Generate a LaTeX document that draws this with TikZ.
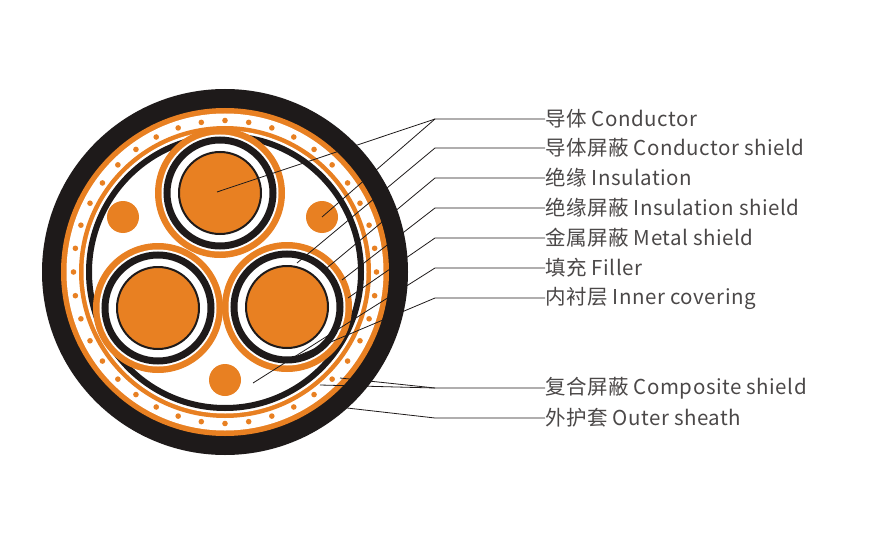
\documentclass[tikz,border=0pt]{standalone}
\usepackage{fontspec}
\setmainfont{Noto Sans CJK SC}[LetterSpace=2.5]
\definecolor{cuorange}{RGB}{232,128,34}
\definecolor{sheath}{RGB}{30,26,26}
\tikzset{
  lead/.style={draw=sheath, line width=0.8pt},
  lbl/.style={anchor=west, inner sep=0pt, font=\fontsize{20.5}{20.5}\selectfont, text=sheath!80},
  conductor/.style={fill=cuorange, draw=sheath, line width=2pt},
  filler/.style={fill=cuorange}
}
\begin{document}
\begin{tikzpicture}[x=1pt,y=-1pt]
    \useasboundingbox (0,0) rectangle (870,559);
    % cable body
    \fill[sheath] (225,272) circle (183);
    \fill[cuorange] (225,272) circle (164);
    \fill[white] (225,272) circle (158.5);
    \foreach \a in {0,9,...,351}
        \fill[cuorange] (225,272) ++(\a:151.5) circle (2.8);
    \fill[cuorange] (225,272) circle (146);
    \fill[white] (225,272) circle (141.5);
    \draw[sheath, line width=6pt] (225,272) circle (136);
    % cores
    \foreach \cx/\cy in {220/193, 158/308, 287/307} {
        \fill[cuorange] (\cx,\cy) circle (65);
        \fill[white] (\cx,\cy) circle (58.5);
        \draw[sheath, line width=7pt] (\cx,\cy) circle (53);
        \node[conductor, circle, minimum size=82pt] at (\cx,\cy) {};
    }
    % fillers
    \fill[filler] (123,217) circle (16);
    \fill[filler] (322,217) circle (16);
    \fill[filler] (225,380) circle (16);
    %%%%%%%%%%%%%%%%%%%%%%%%%%%%%%%%%%%%%%%%
    \node[lbl] (cond) at (545,119) {导体 Conductor};
    \node[lbl] (cshield) at (545,148) {导体屏蔽 Conductor shield};
    \node[lbl] (ins) at (545,178) {绝缘 Insulation};
    \node[lbl] (ishield) at (545,208) {绝缘屏蔽 Insulation shield};
    \node[lbl] (metal) at (545,238) {金属屏蔽 Metal shield};
    \node[lbl] (fill) at (545,268) {填充 Filler};
    \node[lbl] (inner) at (545,298) {内衬层 Inner covering};
    \node[lbl] (comp) at (545,388) {复合屏蔽 Composite shield};
    \node[lbl] (outer) at (545,418) {外护套 Outer sheath};
    %%%%%%%%%%%%%%%%%%%%%%%%%%%%%%%%%%%%%%%%
    \coordinate (kcond) at (435,119);
    \coordinate (kcshield) at (435,148);
    \coordinate (kins) at (435,178);
    \coordinate (kishield) at (435,208);
    \coordinate (kmetal) at (435,238);
    \coordinate (kfill) at (435,268);
    \coordinate (kinner) at (435,298);
    \coordinate (kcomp) at (435,388);
    \coordinate (kouter) at (435,418);
    \coordinate (pcond) at (217,192);
    \coordinate (pfiller) at (322,217);
    \coordinate (pcshield) at (297,263);
    \coordinate (pins) at (322,272);
    \coordinate (pishield) at (342,280);
    \coordinate (pmetal) at (348,298);
    \coordinate (pfill) at (253,383);
    \coordinate (pinner) at (300,355);
    \coordinate (pcomp) at (320,385);
    \coordinate (pcompb) at (340,378);
    \coordinate (pouter) at (347,408);
    %%%%%%%%%%%%%%%%%%%%%%%%%%%%%%%%%%%%%%%%
    \draw[lead] (cond.west) -- (kcond) -- (pcond);
    \draw[lead] (kcond) -- (pfiller);
    \draw[lead] (cshield.west) -- (kcshield) -- (pcshield);
    \draw[lead] (ins.west) -- (kins) -- (pins);
    \draw[lead] (ishield.west) -- (kishield) -- (pishield);
    \draw[lead] (metal.west) -- (kmetal) -- (pmetal);
    \draw[lead] (fill.west) -- (kfill) -- (pfill);
    \draw[lead] (inner.west) -- (kinner) -- (pinner);
    \draw[lead] (comp.west) -- (kcomp) -- (pcomp);
    \draw[lead] (kcomp) -- (pcompb);
    \draw[lead] (outer.west) -- (kouter) -- (pouter);
\end{tikzpicture}
\end{document}
